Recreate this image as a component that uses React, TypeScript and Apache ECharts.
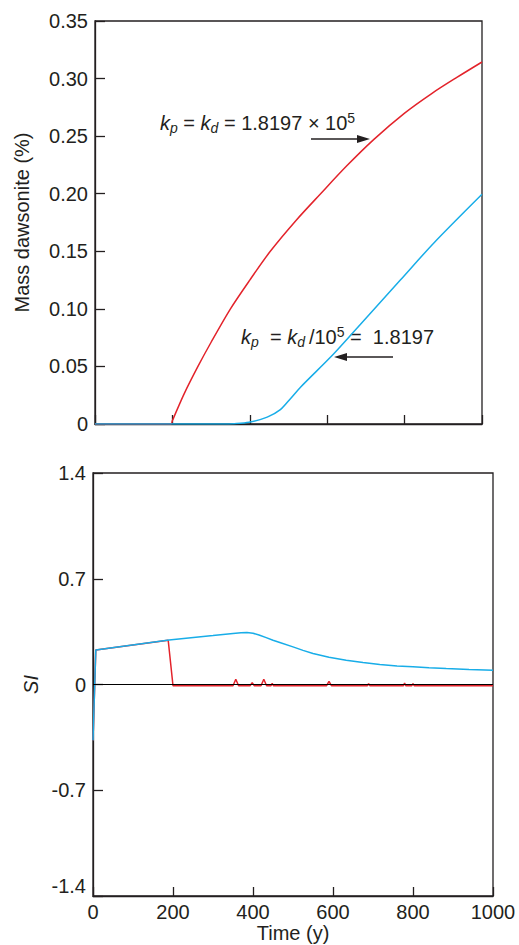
import React, { useEffect, useRef } from "react";
import * as echarts from "echarts";

// Mass of dawsonite precipitated (%), fast kinetics (kp = kd = 1.8197e5)
const fastTime = [0, 196, 200, 230, 266, 300, 350, 400, 453, 520, 583, 650, 720, 800, 870, 935, 1000];
const fastMass = [0, 0, 0.003, 0.026, 0.05, 0.071, 0.1, 0.125, 0.15, 0.177, 0.2, 0.224, 0.247, 0.27, 0.287, 0.301, 0.3144];

// Mass of dawsonite precipitated (%), slow kinetics (kp = kd/1e5 = 1.8197)
const slowTime = [0, 330, 360, 398, 445, 479, 505, 531, 617, 703, 789, 875, 1000];
const slowMass = [0, 0, 0.0003, 0.0015, 0.006, 0.0125, 0.022, 0.032, 0.061, 0.093, 0.125, 0.157, 0.1995];

// Saturation index of dawsonite, fast kinetics
const siFastTime = [0, 7, 188, 200, 350, 357, 364, 393, 398, 403, 420, 427, 434, 445, 448, 451, 584, 590, 596, 686, 689, 692, 776, 779, 782, 797, 800, 803, 1000];
const siFast = [-0.37, 0.228, 0.293, -0.008, -0.008, 0.035, -0.008, -0.008, 0.013, -0.008, -0.008, 0.035, -0.008, -0.008, 0.008, -0.008, -0.008, 0.02, -0.008, -0.008, 0.005, -0.008, -0.008, 0.01, -0.008, -0.008, 0.006, -0.008, -0.008];

// Saturation index of dawsonite, slow kinetics
const siSlowTime = [0, 7, 190, 300, 350, 370, 385, 400, 415, 433, 450, 467, 500, 525, 550, 590, 633, 675, 717, 760, 800, 840, 883, 940, 1000];
const siSlow = [-0.37, 0.228, 0.295, 0.324, 0.338, 0.342, 0.344, 0.339, 0.328, 0.31, 0.293, 0.278, 0.249, 0.226, 0.205, 0.181, 0.161, 0.145, 0.132, 0.123, 0.117, 0.111, 0.106, 0.1, 0.095];

const timeTicks = [0, 1000, 200];
const massTicks = [0, 0.35, 0.05];
const siTicks = [-1.4, 1.4, 0.7];
const siZero = [0];

const FONT = "'Liberation Sans', Arial, Helvetica, sans-serif";
const INK = "#231f20";
const RED = "#e3232b";
const BLUE = "#18ade8";

const zip = (xs: number[], ys: number[]) => xs.map((x, i) => [x, ys[i]]);

const tickStyle = { color: INK, width: 1.3 };
const labelStyle = { color: INK, fontSize: 20, fontFamily: FONT };

export default function App() {
  const ref = useRef<HTMLDivElement>(null);

  useEffect(() => {
    if (!ref.current) return;
    const chart = echarts.init(ref.current, undefined, { renderer: "svg" });

    const lineSeries = (
      xi: number,
      data: number[][],
      color: string,
      extra: Record<string, unknown> = {}
    ) => ({
      type: "line",
      xAxisIndex: xi,
      yAxisIndex: xi,
      data,
      symbol: "none",
      showSymbol: false,
      lineStyle: { color, width: 1.5 },
      itemStyle: { color },
      ...extra,
    });

    const richBase = { fill: INK, fontFamily: FONT, fontSize: 20 };
    const annoRich = {
      k: { ...richBase, fontStyle: "italic" },
      s: { ...richBase, fontStyle: "italic", fontSize: 14, padding: [10, 0, 0, 0] },
      t: { ...richBase },
      u: { ...richBase, fontSize: 14, padding: [0, 0, 11, 0] },
    };

    const option = {
      animation: false,
      grid: [
        { left: 95, top: 21, width: 387, height: 403, show: true, borderColor: INK, borderWidth: 1.3, backgroundColor: "transparent" },
        { left: 93, top: 473, width: 400, height: 423, show: true, borderColor: INK, borderWidth: 1.3, backgroundColor: "transparent" },
      ],
      xAxis: [
        {
          gridIndex: 0,
          type: "value",
          min: timeTicks[0],
          max: timeTicks[1],
          interval: timeTicks[2],
          axisLine: { show: true, onZero: false, lineStyle: tickStyle },
          axisTick: { inside: true, length: 9, lineStyle: tickStyle },
          axisLabel: { show: false },
          splitLine: { show: false },
        },
        {
          gridIndex: 1,
          type: "value",
          min: timeTicks[0],
          max: timeTicks[1],
          interval: timeTicks[2],
          axisLine: { show: true, onZero: false, lineStyle: tickStyle },
          axisTick: { inside: true, length: 9, lineStyle: tickStyle },
          axisLabel: { ...labelStyle, margin: 6, formatter: (v: number) => String(v) },
          splitLine: { show: false },
          name: "Time (y)",
          nameLocation: "middle",
          nameGap: 27,
          nameTextStyle: { ...labelStyle },
        },
      ],
      yAxis: [
        {
          gridIndex: 0,
          type: "value",
          min: massTicks[0],
          max: massTicks[1],
          interval: massTicks[2],
          axisLine: { show: true, onZero: false, lineStyle: tickStyle },
          axisTick: { inside: true, length: 10, lineStyle: tickStyle },
          axisLabel: {
            ...labelStyle,
            margin: 7,
            formatter: (v: number) => (Math.abs(v) < 1e-9 ? "0" : v.toFixed(2)),
          },
          splitLine: { show: false },
          name: "Mass dawsonite (%)",
          nameLocation: "middle",
          nameGap: 63,
          nameTextStyle: { ...labelStyle },
        },
        {
          gridIndex: 1,
          type: "value",
          min: siTicks[0],
          max: siTicks[1],
          interval: siTicks[2],
          axisLine: { show: true, onZero: false, lineStyle: tickStyle },
          axisTick: { inside: true, length: 10, lineStyle: tickStyle },
          axisLabel: {
            ...labelStyle,
            margin: 7,
            formatter: (v: number) => {
              if (Math.abs(v) < 1e-9) return "0";
              if (Math.abs(v - siTicks[0]) < 1e-9) return "{low|" + v.toFixed(1) + "}";
              return v.toFixed(1);
            },
            rich: {
              low: { ...labelStyle, padding: [0, 0, 20, 0] },
            },
          },
          splitLine: { show: false },
          name: "SI",
          nameLocation: "middle",
          nameGap: 41,
          nameTextStyle: { ...labelStyle, fontStyle: "italic" },
        },
      ],
      series: [
        lineSeries(0, zip(fastTime, fastMass), RED, { smooth: 0.3 }),
        lineSeries(0, zip(slowTime, slowMass), BLUE, { smooth: 0.3 }),
        lineSeries(1, zip(siFastTime, siFast), RED, {
          markLine: {
            silent: true,
            symbol: ["none", "none"],
            label: { show: false },
            lineStyle: { color: "#000", width: 1.2, type: "solid" },
            data: siZero.map((y) => ({ yAxis: y })),
          },
        }),
        lineSeries(1, zip(siSlowTime, siSlow), BLUE),
      ],
      graphic: [
        {
          type: "text",
          x: 160,
          y: 123,
          style: {
            text: "{k|k}{s|p}{t| = }{k|k}{s|d}{t| = 1.8197 × 10}{u|5}",
            rich: annoRich,
            align: "left",
            verticalAlign: "middle",
            fill: INK,
            fontFamily: FONT,
            fontSize: 20,
          },
        },
        {
          type: "text",
          x: 241,
          y: 337,
          style: {
            text: "{k|k}{s|p}{t|  = }{k|k}{s|d}{t|\u2009/10}{u|5}{t| =  1.8197}",
            rich: annoRich,
            align: "left",
            verticalAlign: "middle",
            fill: INK,
            fontFamily: FONT,
            fontSize: 20,
          },
        },
        { type: "line", shape: { x1: 311, y1: 139, x2: 360, y2: 139 }, style: { stroke: INK, lineWidth: 1.5 } },
        { type: "polygon", shape: { points: [[370, 139], [357, 135], [357, 143]] }, style: { fill: INK } },
        { type: "line", shape: { x1: 393, y1: 357, x2: 344, y2: 357 }, style: { stroke: INK, lineWidth: 1.5 } },
        { type: "polygon", shape: { points: [[334, 357], [347, 353], [347, 361]] }, style: { fill: INK } },
      ],
    };

    chart.setOption(option as any);
    return () => chart.dispose();
  }, []);

  return (
    <div
      ref={ref}
      style={{ position: "absolute", left: 0, top: 0, width: 519, height: 945 }}
    />
  );
}
